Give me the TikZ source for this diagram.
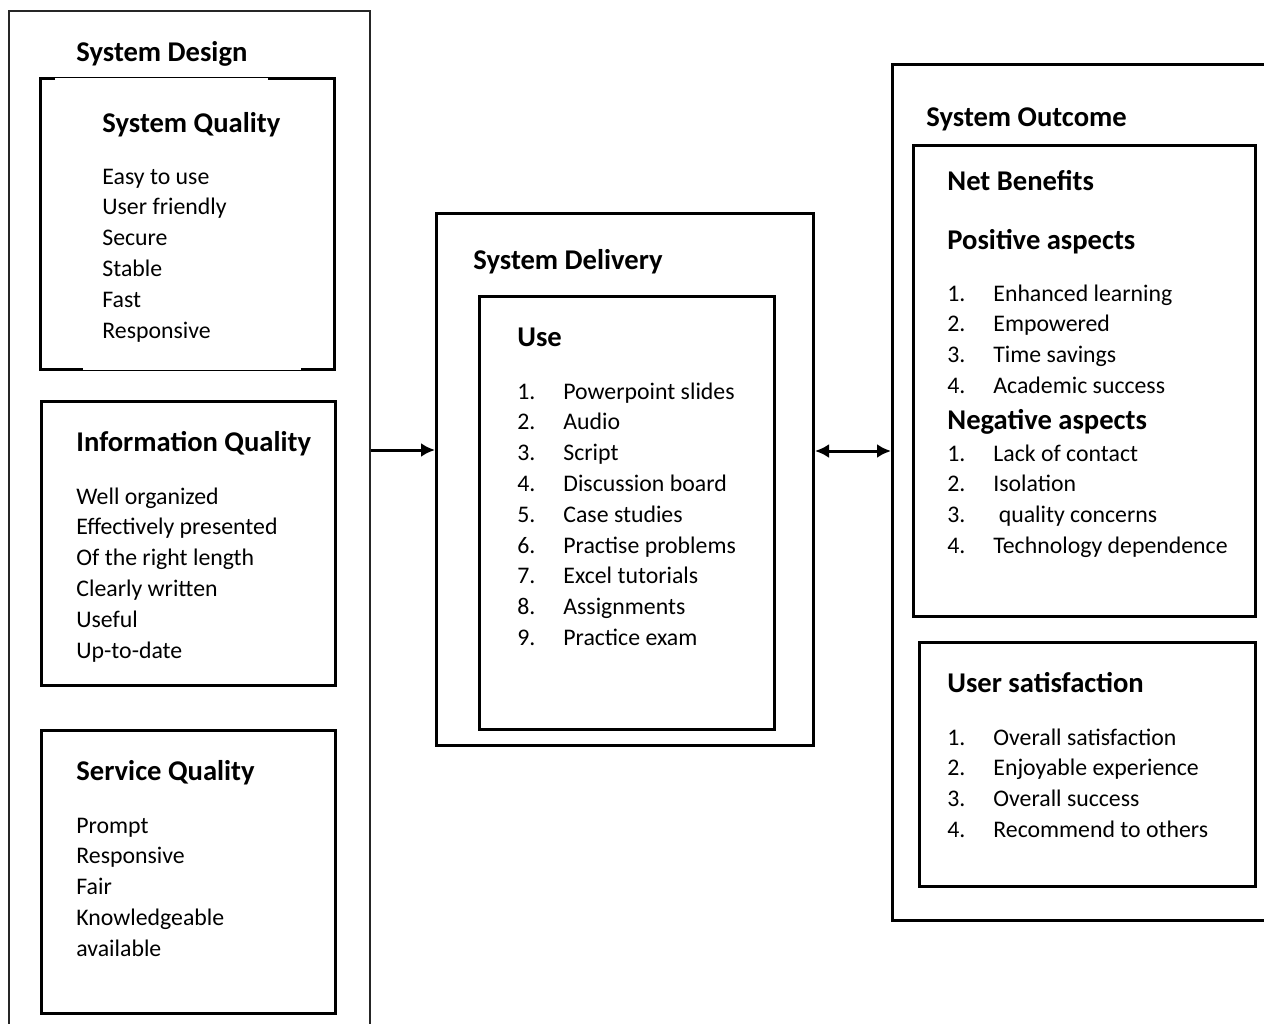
\documentclass[tikz,border=0pt]{standalone}
\usepackage{fontspec}
\setmainfont{Carlito}
\usetikzlibrary{positioning, arrows.meta}
\tikzset{
    box/.style={draw, line width=1.5pt, anchor=north west, inner sep=0pt}, % inner frames
    frame/.style={draw, line width=1.5pt, anchor=north west, inner sep=0pt}, % outer frames
    head/.style={anchor=base west, inner sep=0pt, font=\fontsize{14.3}{17}\selectfont\bfseries},
    items/.style={anchor=base west, inner sep=0pt, font=\fontsize{11.9}{15.4}\selectfont},
    link/.style={line width=1.5pt, -{Latex[length=7pt,width=7pt]}},
}
\newcommand{\num}[1]{\makebox[23pt][l]{#1}}
\newcommand{\itemlist}[1]{\begin{tabular}[t]{@{}l@{}}#1\end{tabular}}

\begin{document}
\begin{tikzpicture}[x=0.5pt, y=-0.5pt]
    \useasboundingbox (0,0) rectangle (1264,1023);
    \clip (0,0) rectangle (1264,1023);

    % system design
    \node[frame, line width=0.8pt, draw=black!85, minimum width=180.5pt, minimum height=515pt] (design) at (8,10) {};
    \node[head] (designhead) at (76,61) {System Design};

    \node[anchor=north west, inner sep=0pt, minimum width=147pt, minimum height=145.5pt] (sq) at (40,78) {};
    \draw[line width=1.5pt] ([xshift=7.5pt]sq.north west) -- (sq.north west) -- (sq.south west) -- ([xshift=21.5pt]sq.south west);
    \draw[line width=1.5pt] ([xshift=-33.5pt]sq.north east) -- (sq.north east) -- (sq.south east) -- ([xshift=-17pt]sq.south east);
    \draw[line width=0.6pt] ([xshift=7.5pt,yshift=0.45pt]sq.north west) -- ([xshift=-33.5pt,yshift=0.45pt]sq.north east);
    \draw[line width=0.6pt] ([xshift=21.5pt,yshift=-0.45pt]sq.south west) -- ([xshift=-17pt,yshift=-0.45pt]sq.south east);
    \node[head] (sqhead) at (102,132) {System Quality};
    \node[items] (sqlist) at (102,184) {\itemlist{Easy to use\\User friendly\\Secure\\Stable\\Fast\\Responsive}};

    \node[box, minimum width=147pt, minimum height=142pt] (iq) at (40,400) {};
    \node[head] (iqhead) at (76,451) {Information Quality};
    \node[items] (iqlist) at (76,504) {\itemlist{Well organized\\Effectively presented\\Of the right length\\Clearly written\\Useful\\Up-to-date}};

    \node[box, minimum width=147pt, minimum height=141.5pt] (servq) at (40,729) {};
    \node[head] (servqhead) at (76,780) {Service Quality};
    \node[items] (servqlist) at (76,833) {\itemlist{Prompt\\Responsive\\Fair\\Knowledgeable\\available}};

    % system delivery
    \node[frame, minimum width=188.5pt, minimum height=266pt] (delivery) at (435,212) {};
    \node[head] (deliveryhead) at (473,269) {System Delivery};
    \node[box, minimum width=147.5pt, minimum height=216.5pt] (use) at (478,295) {};
    \node[head] (usehead) at (517,346) {Use};
    \node[items] (uselist) at (517,399) {\itemlist{\num{1.}Powerpoint slides\\\num{2.}Audio\\\num{3.}Script\\\num{4.}Discussion board\\\num{5.}Case studies\\\num{6.}Practise problems\\\num{7.}Excel tutorials\\\num{8.}Assignments\\\num{9.}Practice exam}};

    % system outcome
    \node[frame, minimum width=199.5pt, minimum height=428pt] (outcome) at (891,63) {};
    \node[head] (outcomehead) at (926,126) {System Outcome};
    \node[box, minimum width=171pt, minimum height=235.5pt] (benefits) at (912,144) {};
    \node[head] (benefitshead) at (947,190) {Net Benefits};
    \node[head] (poshead) at (947,249) {Positive aspects};
    \node[items] (poslist) at (947,301) {\itemlist{\num{1.}Enhanced learning\\\num{2.}Empowered\\\num{3.}Time savings\\\num{4.}Academic success}};
    \node[head] (neghead) at (947,429) {Negative aspects};
    \node[items] (neglist) at (947,461) {\itemlist{\num{1.}Lack of contact\\\num{2.}Isolation\\\num{3.} quality concerns\\\num{4.}Technology dependence}};
    \node[box, minimum width=168pt, minimum height=122pt] (satisfaction) at (918,641) {};
    \node[head] (satisfactionhead) at (947,692) {User satisfaction};
    \node[items] (satisfactionlist) at (947,745) {\itemlist{\num{1.}Overall satisfaction\\\num{2.}Enjoyable experience\\\num{3.}Overall success\\\num{4.}Recommend to others}};

    % links
    \coordinate (level) at (0,450);
    \coordinate (level2) at (0,451);
    \draw[link] (design.east |- level) -- (delivery.west |- level);
    \draw[link, {Latex[length=7pt,width=7pt]}-{Latex[length=7pt,width=7pt]}] (delivery.east |- level2) -- (outcome.west |- level2);
\end{tikzpicture}
\end{document}
